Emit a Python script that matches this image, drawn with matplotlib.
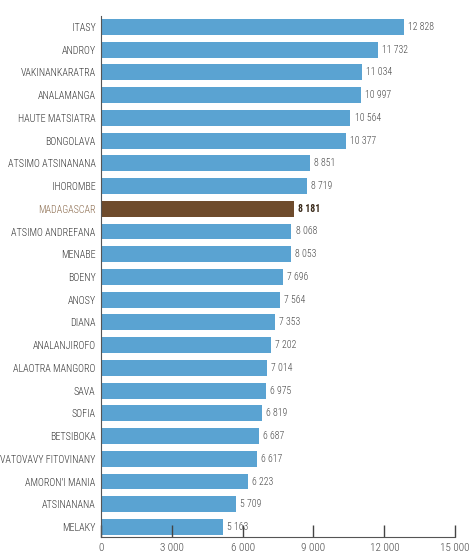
import matplotlib
matplotlib.use("Agg")
import matplotlib.pyplot as plt

regions = ["ITASY", "ANDROY", "VAKINANKARATRA", "ANALAMANGA", "HAUTE MATSIATRA",
           "BONGOLAVA", "ATSIMO ATSINANANA", "IHOROMBE", "MADAGASCAR",
           "ATSIMO ANDREFANA", "MENABE", "BOENY", "ANOSY", "DIANA", "ANALANJIROFO",
           "ALAOTRA MANGORO", "SAVA", "SOFIA", "BETSIBOKA", "VATOVAVY FITOVINANY",
           "AMORON'I MANIA", "ATSINANANA", "MELAKY"]
values = [12828, 11732, 11034, 10997, 10564, 10377, 8851, 8719, 8181,
          8068, 8053, 7696, 7564, 7353, 7202, 7014, 6975, 6819, 6687, 6617,
          6223, 5709, 5163]
xticks = [0, 3000, 6000, 9000, 12000, 15000]

plt.rcParams['font.family'] = ['Roboto Condensed', 'Fira Sans Condensed', 'DejaVu Sans']
plt.rcParams['font.weight'] = 'light'

blue = "#5aa3d2"
brown = "#6e4b2c"
grey = "#444444"

fig = plt.figure(figsize=(4.71, 5.56), dpi=100)
ax = fig.add_axes([0.2144, 0.0342, 0.752, 0.937])

ypos = list(range(len(regions)))
colors = [brown if r == "MADAGASCAR" else blue for r in regions]
ax.barh(ypos, values, height=0.7, color=colors)

for y, v, r in zip(ypos, values, regions):
    txt = f"{v:,}".replace(",", " ")
    if r == "MADAGASCAR":
        ax.text(v + 180, y, txt, va="center", ha="left", fontsize=7,
                color="#3a2a1a", fontweight="bold")
    else:
        ax.text(v + 180, y, txt, va="center", ha="left", fontsize=7, color=grey)

ax.set_yticks(ypos)
ax.set_yticklabels(regions, fontsize=7.2, color="#333333")
for lab in ax.get_yticklabels():
    if lab.get_text() == "MADAGASCAR":
        lab.set_color("#8a6a4c")
ax.tick_params(axis="y", length=0, pad=4)
ax.set_ylim(22.44, -0.48)

ax.set_xlim(0, 15000)
ax.set_xticks(xticks)
ax.set_xticklabels([f"{t:,}".replace(",", " ") for t in xticks], fontsize=8, color=grey)
ax.tick_params(axis="x", direction="in", length=9, width=1, color="#444444", pad=4)

for s in ["top", "right"]:
    ax.spines[s].set_visible(False)
ax.spines["left"].set_color("#555555")
ax.spines["bottom"].set_color("#555555")

fig.savefig("out.png", dpi=100)
